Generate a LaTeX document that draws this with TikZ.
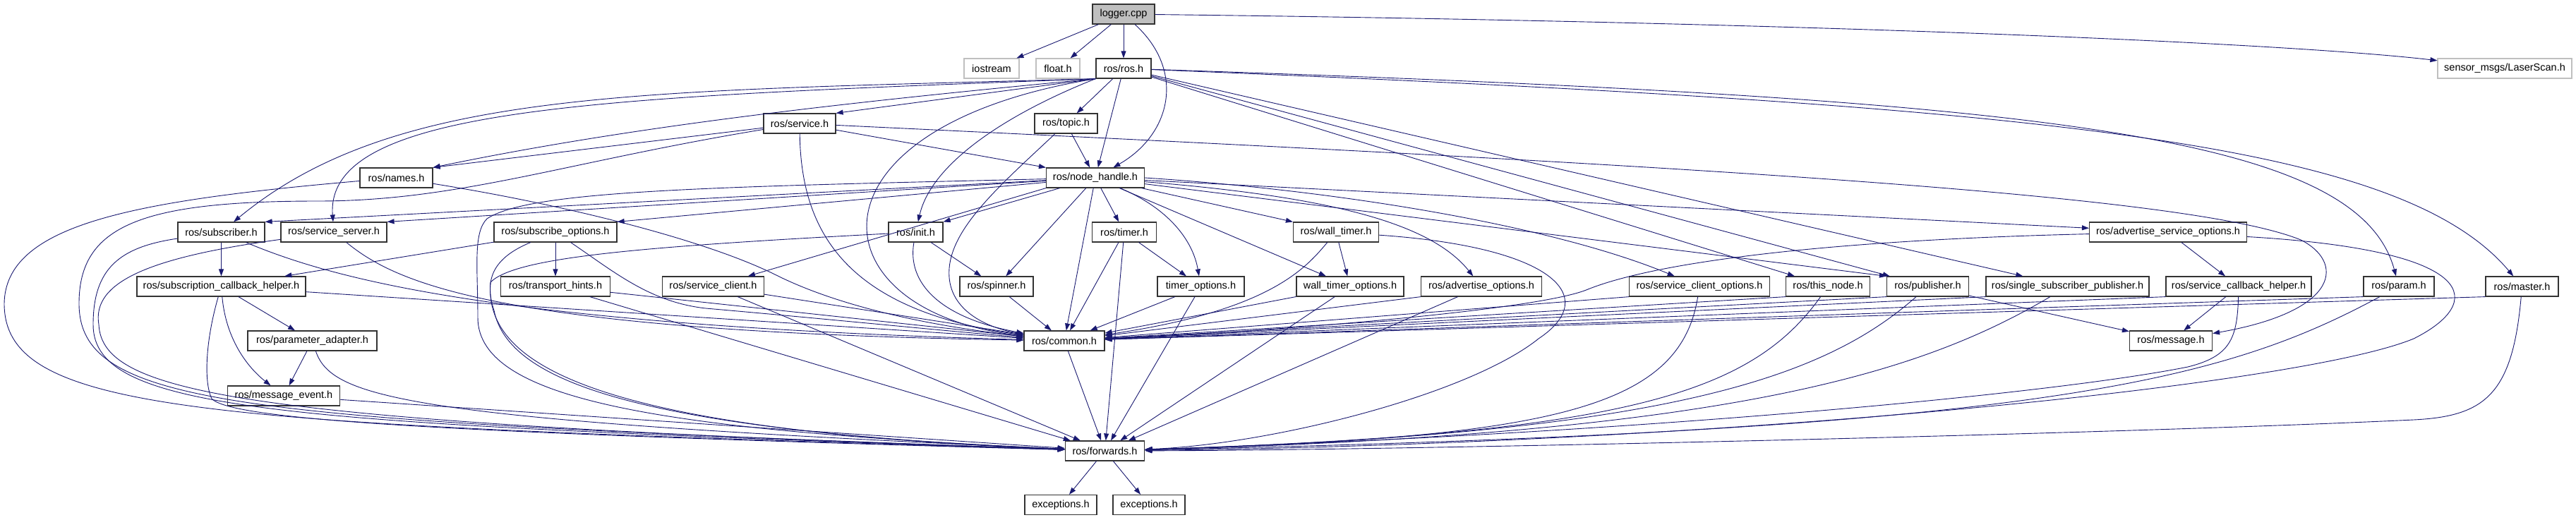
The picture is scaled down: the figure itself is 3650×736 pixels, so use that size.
\documentclass[tikz,border=0pt]{standalone}
\usepackage{fontspec}
\setmainfont{Liberation Sans}
\usetikzlibrary{arrows.meta}
\definecolor{edgeblue}{RGB}{25,25,112}
\definecolor{boxgray}{RGB}{191,191,191}
\tikzset{
  hdr/.style={draw=black!80, line width=1.2pt, fill=white, minimum height=28, inner sep=0pt, font=\fontsize{14.5}{17}\selectfont},
  ext/.style={hdr, draw=boxgray},
  root/.style={hdr, fill=boxgray},
  dep/.style={draw=edgeblue, line width=0.9pt, -{Triangle[length=10pt,width=7pt]}}
}
\begin{document}
\begin{tikzpicture}[x=1pt,y=1pt,yscale=-1]
\useasboundingbox (0,0) rectangle (3650,736);

% headers, row by row
\node[root, minimum width=88] (logger) at (1592,20) {logger.cpp};
\node[ext, minimum width=78] (iostream) at (1405,97) {iostream};
\node[ext, minimum width=62] (floath) at (1499,97) {float.h};
\node[hdr, minimum width=78] (ros) at (1592,97) {ros/ros.h};
\node[ext, minimum width=190] (laserscan) at (3549,97) {sensor\_msgs/LaserScan.h};
\node[hdr, minimum width=102] (service) at (1133,175) {ros/service.h};
\node[hdr, minimum width=89] (topic) at (1510.5,175) {ros/topic.h};
\node[hdr, minimum width=103] (names) at (561.5,252) {ros/names.h};
\node[hdr, minimum width=139] (nodehandle) at (1552,252) {ros/node\_handle.h};
\node[hdr, minimum width=123] (subscriber) at (313.5,329) {ros/subscriber.h};
\node[hdr, minimum width=150] (serviceserver) at (473,329) {ros/service\_server.h};
\node[hdr, minimum width=174] (subscribeopts) at (787,329) {ros/subscribe\_options.h};
\node[hdr, minimum width=77] (init) at (1297.5,329) {ros/init.h};
\node[hdr, minimum width=91.5] (timer) at (1593,329) {ros/timer.h};
\node[hdr, minimum width=121] (walltimer) at (1893,329) {ros/wall\_timer.h};
\node[hdr, minimum width=223] (advsrvopts) at (3072,329) {ros/advertise\_service\_options.h};
\node[hdr, minimum width=239] (subcbhelper) at (313.5,406) {ros/subscription\_callback\_helper.h};
\node[hdr, minimum width=154.5] (transporthints) at (787,406) {ros/transport\_hints.h};
\node[hdr, minimum width=144] (serviceclient) at (1010.5,406) {ros/service\_client.h};
\node[hdr, minimum width=104] (spinner) at (1412,406) {ros/spinner.h};
\node[hdr, minimum width=123] (timeropts) at (1701.5,406) {timer\_options.h};
\node[hdr, minimum width=152] (walltimeropts) at (1913,406) {wall\_timer\_options.h};
\node[hdr, minimum width=170.5] (advopts) at (2099,406) {ros/advertise\_options.h};
\node[hdr, minimum width=198.5] (srvclientopts) at (2408,406) {ros/service\_client\_options.h};
\node[hdr, minimum width=119] (thisnode) at (2590,406) {ros/this\_node.h};
\node[hdr, minimum width=116] (publisher) at (2731.5,406) {ros/publisher.h};
\node[hdr, minimum width=231] (singlesubpub) at (2929.5,406) {ros/single\_subscriber\_publisher.h};
\node[hdr, minimum width=206] (srvcbhelper) at (3172,406) {ros/service\_callback\_helper.h};
\node[hdr, minimum width=100] (param) at (3399,406) {ros/param.h};
\node[hdr, minimum width=103] (master) at (3573.5,406) {ros/master.h};
\node[hdr, minimum width=183] (paramadapter) at (442.5,483) {ros/parameter\_adapter.h};
\node[hdr, minimum width=114] (common) at (1508,483) {ros/common.h};
\node[hdr, minimum width=117] (message) at (3076,483) {ros/message.h};
\node[hdr, minimum width=159.5] (messageevent) at (402,561) {ros/message\_event.h};
\node[hdr, minimum width=112.5] (forwards) at (1565.5,639) {ros/forwards.h};
\node[hdr, minimum width=102] (exc1) at (1503,715.5) {exceptions.h};
\node[hdr, minimum width=102] (exc2) at (1628,715.5) {exceptions.h};

% from logger.cpp
\draw[dep] (logger) -- (iostream);
\draw[dep] (logger) -- (floath);
\draw[dep] (logger) -- (ros);
\draw[dep] (logger) .. controls (1680,100) and (1660,190) .. (nodehandle);
\draw[dep] (logger) .. controls (2600,32) and (3250,62) .. (laserscan);

% from ros/ros.h
\draw[dep] (ros.south west) .. controls (900,130) and (560,125) .. (subscriber);
\draw[dep] (ros.south west) .. controls (850,138) and (460,150) .. (serviceserver);
\draw[dep] (ros.south west) .. controls (1200,145) and (900,178) .. (names.north east);
\draw[dep] (ros.south west) -- (service.north east);
\draw[dep] (ros) -- (topic);
\draw[dep] (ros) -- (nodehandle);
\draw[dep] (ros.south west) .. controls (1130,180) and (1150,440) .. (common);
\draw[dep] (ros.south west) .. controls (1430,160) and (1320,230) .. (init);
\draw[dep] (ros) .. controls (2900,140) and (3340,190) .. (param);
\draw[dep] (ros) .. controls (2900,150) and (3400,200) .. (master);
\draw[dep] (ros) -- (thisnode);
\draw[dep] (ros) -- (publisher);
\draw[dep] (ros) -- (singlesubpub);

% from ros/service.h and ros/topic.h
\draw[dep] (service) -- (names.north east);
\draw[dep] (service) -- (nodehandle.north west);
\draw[dep] (service) .. controls (1135,330) and (1200,440) .. (common);
\draw[dep] (service) .. controls (800,230) and (650,285) .. (450,285)
  .. controls (200,285) and (112,320) .. (112,430)
  .. controls (112,580) and (350,595) .. (forwards);
\draw[dep] (service) .. controls (2400,235) and (3100,275) .. (3260,340)
  .. controls (3320,370) and (3320,440) .. (message);
\draw[dep] (topic) -- (nodehandle);
\draw[dep] (topic) .. controls (1420,260) and (1350,320) .. (1345,380)
  .. controls (1340,440) and (1400,465) .. (common);

% from ros/names.h
\draw[dep] (names) .. controls (800,290) and (1000,340) .. (1100,390)
  .. controls (1180,430) and (1300,460) .. (common);
\draw[dep] (names) .. controls (180,285) and (8,320) .. (6,430)
  .. controls (6,590) and (300,600) .. (forwards);

% from ros/node_handle.h
\draw[dep] (nodehandle) -- (subscriber.north east);
\draw[dep] (nodehandle) -- (serviceserver.north east);
\draw[dep] (nodehandle) -- (subscribeopts.north east);
\draw[dep] (nodehandle.south west) -- (serviceclient);
\draw[dep] (nodehandle) -- (init.north east);
\draw[dep] (nodehandle) -- (spinner);
\draw[dep] (nodehandle) -- (common);
\draw[dep] (nodehandle) -- (timer);
\draw[dep] (nodehandle) .. controls (1655,295) and (1690,340) .. (timeropts);
\draw[dep] (nodehandle) -- (walltimeropts);
\draw[dep] (nodehandle) -- (walltimer.north west);
\draw[dep] (nodehandle) .. controls (1900,280) and (2030,320) .. (advopts);
\draw[dep] (nodehandle.east) .. controls (1900,270) and (2200,320) .. (srvclientopts);
\draw[dep] (nodehandle) -- (publisher.north west);
\draw[dep] (nodehandle) -- (advsrvopts);
\draw[dep] (nodehandle) .. controls (1000,265) and (750,270) .. (690,310)
  .. controls (670,330) and (677,380) .. (677,450)
  .. controls (677,570) and (950,610) .. (forwards);

% row 4
\draw[dep] (subscriber) -- (subcbhelper);
\draw[dep] (subscriber) .. controls (460,390) and (680,460) .. (common);
\draw[dep] (subscriber) .. controls (170,350) and (132,380) .. (132,460)
  .. controls (132,585) and (400,600) .. (forwards);
\draw[dep] (serviceserver) .. controls (560,400) and (700,470) .. (common);
\draw[dep] (serviceserver) .. controls (210,365) and (130,400) .. (140,460)
  .. controls (145,560) and (350,598) .. (forwards);
\draw[dep] (subscribeopts) -- (subcbhelper);
\draw[dep] (subscribeopts) -- (transporthints);
\draw[dep] (subscribeopts) .. controls (870,385) and (920,428) .. (1000,437)
  .. controls (1150,450) and (1350,470) .. (common);
\draw[dep] (subscribeopts) .. controls (700,365) and (685,395) .. (700,440)
  .. controls (720,540) and (900,610) .. (forwards);
\draw[dep] (init) -- (spinner);
\draw[dep] (init) .. controls (1285,400) and (1330,450) .. (common);
\draw[dep] (init) .. controls (900,350) and (730,365) .. (695,400)
  .. controls (685,520) and (850,610) .. (forwards);
\draw[dep] (timer) -- (timeropts);
\draw[dep] (timer) -- (common);
\draw[dep] (timer) -- (forwards);
\draw[dep] (walltimer) -- (walltimeropts);
\draw[dep] (walltimer) .. controls (1850,380) and (1800,440) .. (common);
\draw[dep] (walltimer) .. controls (2200,350) and (2270,420) .. (2180,480)
  .. controls (2080,560) and (1800,630) .. (forwards);
\draw[dep] (advsrvopts) -- (srvcbhelper);
\draw[dep] (advsrvopts) .. controls (2600,340) and (2350,370) .. (2250,410)
  .. controls (2180,440) and (1800,470) .. (common);
\draw[dep] (advsrvopts) .. controls (3520,355) and (3520,430) .. (3420,480)
  .. controls (3250,550) and (2400,630) .. (forwards);

% row 5
\draw[dep] (subcbhelper) -- (paramadapter);
\draw[dep] (subcbhelper) .. controls (320,480) and (350,520) .. (messageevent);
\draw[dep] (subcbhelper) -- (common);
\draw[dep] (subcbhelper) .. controls (292,480) and (288,540) .. (300,565)
  .. controls (330,598) and (700,615) .. (forwards);
\draw[dep] (transporthints) -- (common);
\draw[dep] (transporthints) -- (forwards);
\draw[dep] (serviceclient) -- (common);
\draw[dep] (serviceclient) -- (forwards);
\draw[dep] (spinner) -- (common);
\draw[dep] (timeropts) -- (common);
\draw[dep] (timeropts) -- (forwards);
\draw[dep] (walltimeropts) -- (common);
\draw[dep] (walltimeropts) -- (forwards);
\draw[dep] (advopts.south west) -- (common);
\draw[dep] (advopts) -- (forwards);
\draw[dep] (srvclientopts.south west) -- (common);
\draw[dep] (srvclientopts) .. controls (2380,580) and (2200,620) .. (forwards);
\draw[dep] (thisnode.south west) -- (common);
\draw[dep] (thisnode) .. controls (2480,560) and (2300,615) .. (forwards);
\draw[dep] (publisher.south west) -- (common);
\draw[dep] (publisher) -- (message);
\draw[dep] (publisher) .. controls (2580,540) and (2350,615) .. (forwards);
\draw[dep] (singlesubpub.south west) -- (common);
\draw[dep] (singlesubpub) .. controls (2720,530) and (2450,615) .. (forwards);
\draw[dep] (srvcbhelper.south west) -- (common);
\draw[dep] (srvcbhelper) -- (message);
\draw[dep] (srvcbhelper) .. controls (3170,480) and (3160,505) .. (3100,520)
  .. controls (2900,560) and (2300,615) .. (forwards);
\draw[dep] (param.south west) -- (common);
\draw[dep] (param) .. controls (3150,540) and (2900,610) .. (forwards);
\draw[dep] (master.south west) -- (common);
\draw[dep] (master) .. controls (3560,560) and (3520,590) .. (3420,595)
  .. controls (3000,615) and (2000,638) .. (forwards);

% rows 6 to 8
\draw[dep] (paramadapter) -- (messageevent);
\draw[dep] (paramadapter) .. controls (470,565) and (580,595) .. (forwards);
\draw[dep] (messageevent) -- (forwards);
\draw[dep] (common) -- (forwards);
\draw[dep] (forwards) -- (exc1);
\draw[dep] (forwards) -- (exc2);

\end{tikzpicture}
\end{document}
